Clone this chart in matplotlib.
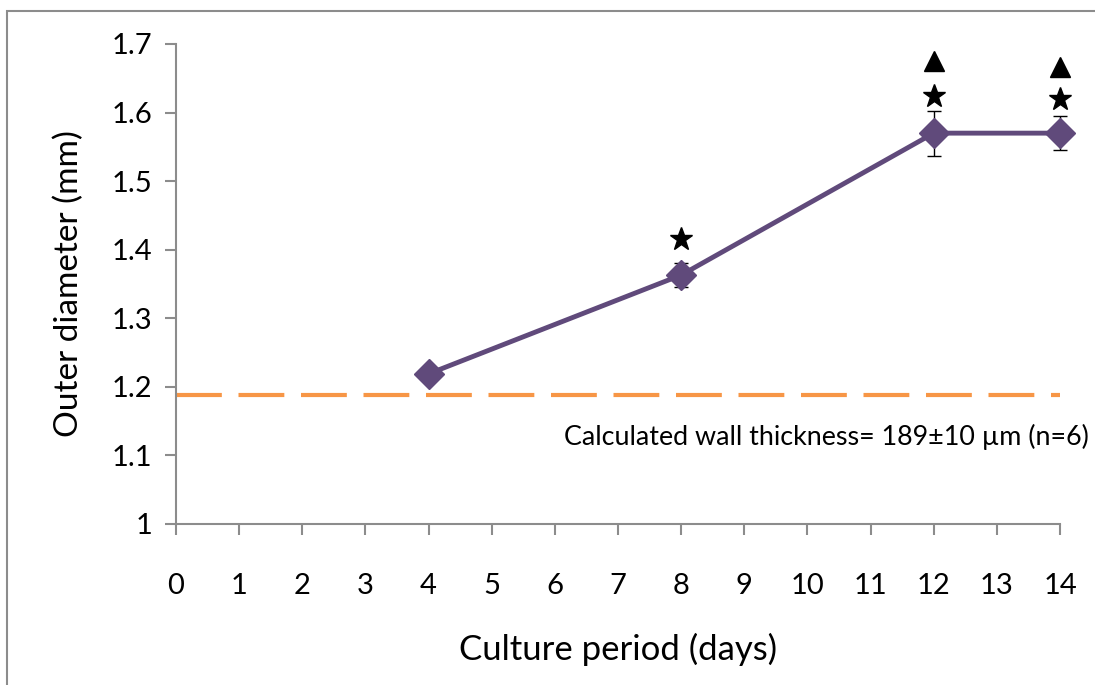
import matplotlib.pyplot as plt
from matplotlib.patches import Rectangle

# data
days = [4, 8, 12, 14]
outer_diameter = [1.219, 1.363, 1.570, 1.570]
diameter_sd = [0.007, 0.018, 0.033, 0.025]

star_days = [8, 12, 14]
star_y = [1.415, 1.624, 1.620]
triangle_days = [12, 14]
triangle_y = [1.675, 1.666]

wall_level = 1.188
x_ticks = list(range(0, 15))
y_ticks = [1.0, 1.1, 1.2, 1.3, 1.4, 1.5, 1.6, 1.7]
y_tick_labels = ['1', '1.1', '1.2', '1.3', '1.4', '1.5', '1.6', '1.7']

plt.rcParams['font.family'] = ['Lato', 'DejaVu Sans']
purple = '#604a7b'
orange = '#f79646'
grey = '#8c8c8c'

fig = plt.figure(figsize=(10.95, 6.85), dpi=100)
ax = fig.add_axes([176 / 1095, 1 - 524 / 685, (1060 - 176) / 1095, (524 - 44) / 685])

# outer frame of the chart (left and top edges visible)
fig.patches.append(Rectangle((7 / 1095, -0.1), 1.2, 1 - 11 / 685 + 0.1,
                             transform=fig.transFigure, fill=False,
                             edgecolor=grey, linewidth=1.5))

ax.axhline(wall_level, color=orange, linewidth=3, dashes=(11, 4), zorder=1)

ax.errorbar(days, outer_diameter, yerr=diameter_sd, fmt='none', ecolor='black',
            elinewidth=1, capsize=5, capthick=1, zorder=2, clip_on=False)
ax.plot(days, outer_diameter, color=purple, linewidth=3.5, marker='D',
        markersize=15, markerfacecolor=purple, markeredgecolor=purple, zorder=3,
        clip_on=False)

ax.plot(star_days, star_y, linestyle='none', marker='*', markersize=17, color='black',
        zorder=4, clip_on=False)
ax.plot(triangle_days, triangle_y, linestyle='none', marker='^', markersize=14, color='black',
        zorder=4, clip_on=False)

ax.set_xlim(0, 14)
ax.set_ylim(1.0, 1.7)
ax.set_xticks(x_ticks)
ax.set_yticks(y_ticks)
ax.set_yticklabels(y_tick_labels)

for side in ['top', 'right']:
    ax.spines[side].set_visible(False)
for side in ['left', 'bottom']:
    ax.spines[side].set_color(grey)
    ax.spines[side].set_linewidth(1.5)
ax.tick_params(axis='both', direction='out', length=8, width=1.5, color=grey,
               labelsize=21, labelcolor='black')
ax.tick_params(axis='x', pad=27)
ax.tick_params(axis='y', pad=9)

ax.set_xlabel('Culture period (days)', fontsize=25, labelpad=25)
ax.set_ylabel('Outer diameter (mm)', fontsize=24, labelpad=20)

fig.text(826 / 1095, 1 - 437 / 685, 'Calculated wall thickness= 189\u00b110 \u00b5m (n=6)',
         fontsize=19.4, ha='center', va='center')

fig.savefig('out.png', dpi=100)
